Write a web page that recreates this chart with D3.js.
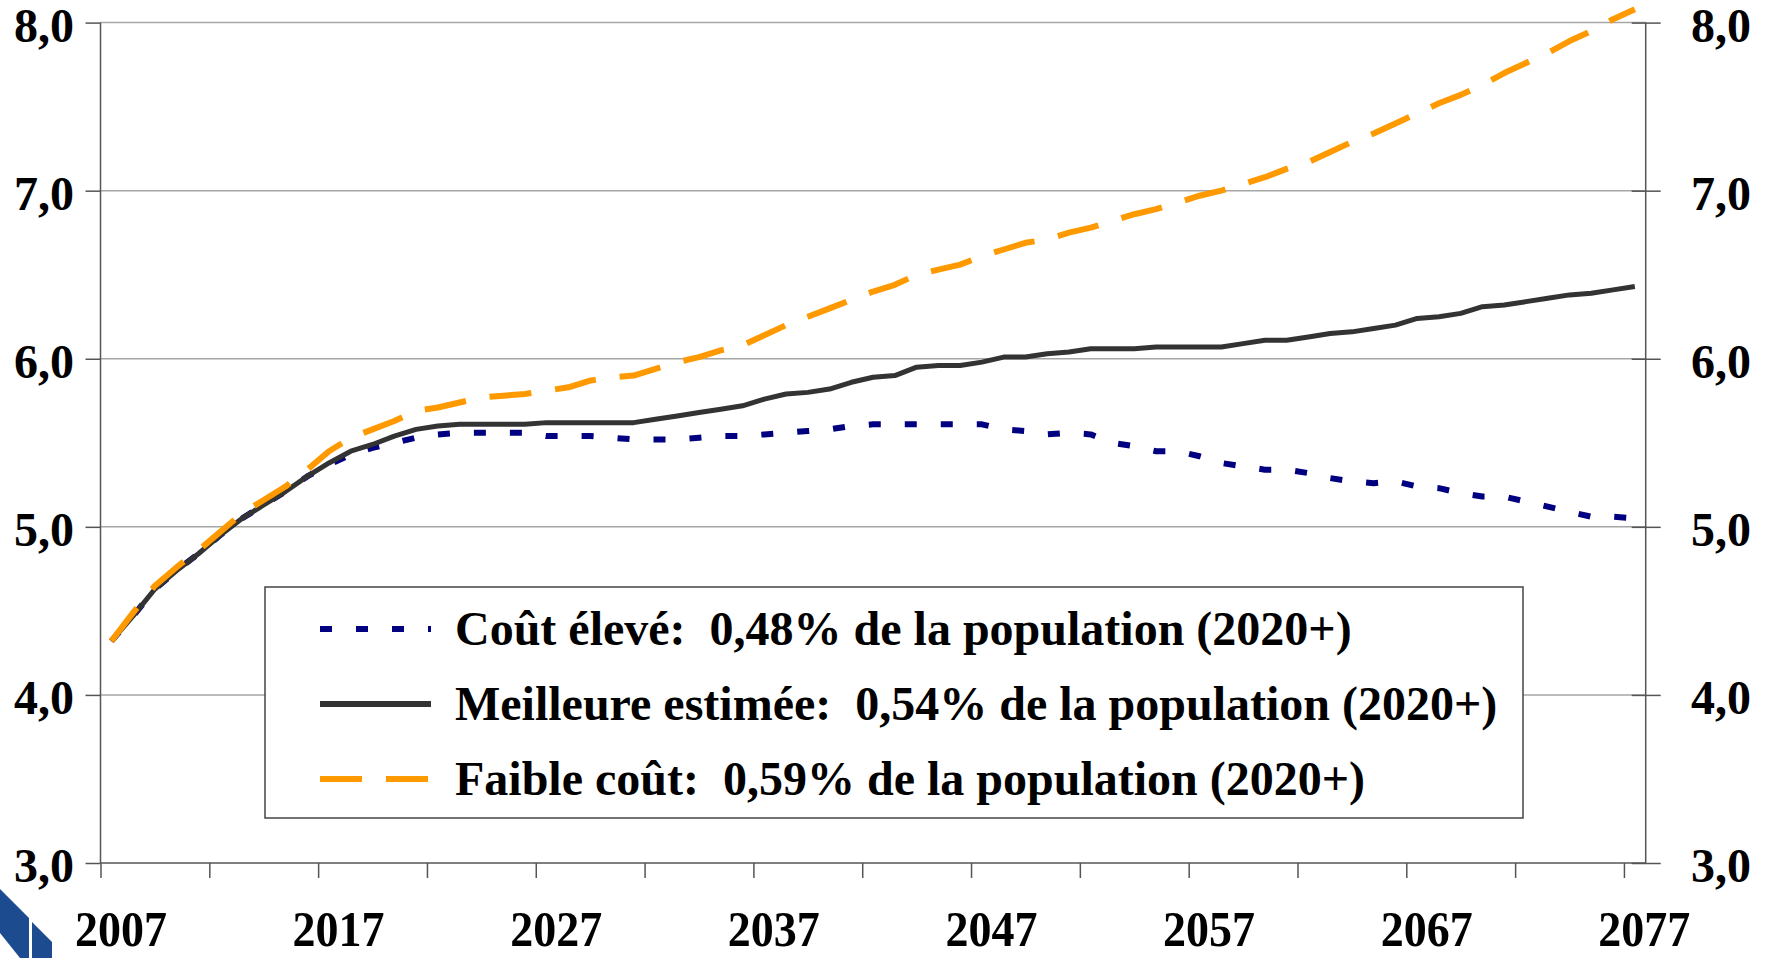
<!DOCTYPE html>
<html>
<head>
<meta charset="utf-8">
<script src="https://cdn.jsdelivr.net/npm/d3@7"></script>
<style>
html,body{margin:0;padding:0;background:#fff;overflow:hidden;}
svg{display:block;}
text{font-family:"Liberation Serif","Times New Roman",serif;font-weight:bold;fill:#000;}
</style>
</head>
<body>
<svg id="chart" width="1771" height="958"></svg>
<script>
// ---- data ----
const years = d3.range(2007, 2078);
const xLabelYears = [2007, 2017, 2027, 2037, 2047, 2057, 2067, 2077];
const yTicks = [3, 4, 5, 6, 7, 8];

const coutEleve = [
  4.32,4.47,4.63,4.74,4.84,4.95,5.05,5.13,5.21,5.30,
  5.37,5.43,5.47,5.50,5.53,5.55,5.56,5.56,5.56,5.56,
  5.54,5.54,5.54,5.53,5.52,5.52,5.52,5.53,5.54,5.54,
  5.55,5.56,5.57,5.58,5.60,5.61,5.61,5.61,5.61,5.61,
  5.61,5.58,5.57,5.55,5.56,5.55,5.50,5.48,5.45,5.45,
  5.42,5.38,5.36,5.34,5.34,5.32,5.29,5.27,5.26,5.27,
  5.24,5.23,5.20,5.18,5.18,5.15,5.12,5.09,5.06,5.06,
  5.05
];
const meilleure = [
  4.32,4.47,4.63,4.74,4.84,4.95,5.05,5.13,5.21,5.30,
  5.38,5.45,5.49,5.54,5.58,5.60,5.61,5.61,5.61,5.61,
  5.62,5.62,5.62,5.62,5.62,5.64,5.66,5.68,5.70,5.72,
  5.76,5.79,5.80,5.82,5.86,5.89,5.90,5.95,5.96,5.96,
  5.98,6.01,6.01,6.03,6.04,6.06,6.06,6.06,6.07,6.07,
  6.07,6.07,6.09,6.11,6.11,6.13,6.15,6.16,6.18,6.20,
  6.24,6.25,6.27,6.31,6.32,6.34,6.36,6.38,6.39,6.41,
  6.43
];
const faibleCout = [
  4.32,4.49,4.65,4.76,4.86,4.97,5.08,5.16,5.24,5.34,
  5.45,5.53,5.58,5.63,5.69,5.71,5.74,5.77,5.78,5.79,
  5.81,5.83,5.87,5.89,5.90,5.94,5.98,6.01,6.05,6.08,
  6.14,6.20,6.25,6.30,6.35,6.40,6.44,6.50,6.53,6.56,
  6.61,6.65,6.69,6.71,6.75,6.78,6.82,6.86,6.89,6.93,
  6.97,7.00,7.04,7.08,7.13,7.17,7.23,7.29,7.34,7.40,
  7.46,7.52,7.57,7.63,7.70,7.76,7.82,7.89,7.95,8.02,
  8.08
];
const seriesNames = [
  "Coût élevé:  0,48% de la population (2020+)",
  "Meilleure estimée:  0,54% de la population (2020+)",
  "Faible coût:  0,59% de la population (2020+)"
];

(function () {
// ---- layout ----
const svg = d3.select("#chart");
const pLeft = 100.5, pRight = 1645.7, pTop = 22.6, pBottom = 863;
const x = d3.scaleLinear().domain([2006.5, 2077.5]).range([pLeft, pRight]);
const y = d3.scaleLinear().domain([3, 8]).range([pBottom, pTop]);
const fmt = d => d3.format(".1f")(d).replace(".", ",");

// gridlines
svg.append("g").selectAll("line").data(yTicks.filter(d => d > 3)).join("line")
  .attr("x1", pLeft).attr("x2", pRight)
  .attr("y1", d => y(d)).attr("y2", d => y(d))
  .attr("stroke", "#a6a6a6").attr("stroke-width", 1.5);

// left axis
const gl = svg.append("g").attr("transform", `translate(${pLeft},0)`)
  .call(d3.axisLeft(y).tickValues(yTicks).tickSize(15).tickFormat(""));
gl.selectAll("path,line").attr("stroke", "#555").attr("stroke-width", 1.5);
gl.select(".domain").attr("d", `M0,${pBottom}V${pTop}`);
svg.append("g").selectAll("text").data(yTicks).join("text")
  .attr("x", 74).attr("y", d => y(d) + 19)
  .attr("text-anchor", "end").attr("font-size", 48).text(fmt);

// right axis
const gr = svg.append("g").attr("transform", `translate(${pRight},0)`)
  .call(d3.axisRight(y).tickValues(yTicks).tickSize(15).tickFormat(""));
gr.selectAll("path,line").attr("stroke", "#555").attr("stroke-width", 1.5);
gr.select(".domain").attr("d", `M0,${pBottom}V${pTop}`);
gr.selectAll(".tick line").attr("x1", -14);
svg.append("g").selectAll("text").data(yTicks).join("text")
  .attr("x", 1691).attr("y", d => y(d) + 19)
  .attr("text-anchor", "start").attr("font-size", 48).text(fmt);

// bottom axis (ticks at category boundaries every 5 years)
const tickYears = d3.range(0, 15).map(k => 2006.5 + 5 * k);
const gb = svg.append("g").attr("transform", `translate(0,${pBottom})`)
  .call(d3.axisBottom(x).tickValues(tickYears).tickSize(15).tickFormat(""));
gb.selectAll("path,line").attr("stroke", "#555").attr("stroke-width", 1.5);
gb.select(".domain").attr("d", `M${pLeft},0H${pRight}`);
svg.append("g").selectAll("text").data(xLabelYears).join("text")
  .attr("transform", d => `translate(${x(d) + 9.5},946) scale(1,1.1)`)
  .attr("text-anchor", "middle").attr("font-size", 46).text(d => d);

// lines
const line = d3.line().x((d, i) => x(years[i])).y(d => y(d));
const styles = [
  {data: coutEleve, color: "#000080", width: 6, dash: "12,24"},
  {data: meilleure, color: "#333333", width: 5, dash: null},
  {data: faibleCout, color: "#ff9900", width: 6, dash: "42,24"}
];
svg.append("g").selectAll("path").data(styles).join("path")
  .attr("d", s => line(s.data))
  .attr("fill", "none")
  .attr("stroke", s => s.color)
  .attr("stroke-width", s => s.width)
  .attr("stroke-dasharray", s => s.dash)
  .attr("stroke-linejoin", "round");

// legend
const lg = svg.append("g");
lg.append("rect").attr("x", 265).attr("y", 587).attr("width", 1258).attr("height", 231)
  .attr("fill", "#fff").attr("stroke", "#444").attr("stroke-width", 1.5);
const rowsY = [629, 704, 779];
styles.forEach((s, i) => {
  lg.append("line").attr("x1", 320).attr("x2", 431)
    .attr("y1", rowsY[i]).attr("y2", rowsY[i])
    .attr("stroke", s.color).attr("stroke-width", 6)
    .attr("stroke-dasharray", s.dash);
  lg.append("text").attr("x", 455).attr("y", rowsY[i] + 16)
    .attr("font-size", 48).style("white-space", "pre").text(seriesNames[i]);
});

// logo fragment (bottom-left)
svg.append("polygon").attr("points", "0,889 29,918 29,958 20,958 0,933").attr("fill", "#1d4b8f");
svg.append("polygon").attr("points", "32,922 52,942 52,958 32,958").attr("fill", "#1d4b8f");
})();
</script>
</body>
</html>
